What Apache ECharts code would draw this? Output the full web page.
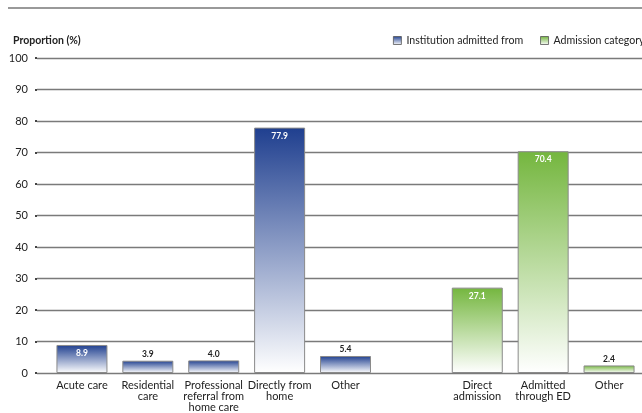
<!DOCTYPE html>
<html><head><meta charset="utf-8">
<script src="https://cdn.jsdelivr.net/npm/echarts@6/dist/echarts.min.js"></script>
<style>html,body{margin:0;padding:0;background:#fff}#c{width:642px;height:413px}</style>
</head><body><div id="c"></div>
<script>
var categories = ['Acute care','Residential\ncare','Professional\nreferral from\nhome care','Directly from\nhome','Other','','Direct\nadmission','Admitted\nthrough ED','Other'];
var institutionValues = [8.9, 3.9, 4.0, 77.9, 5.4, null, null, null, null];
var admissionValues = [null, null, null, null, null, null, 27.1, 70.4, 2.4];
var yTicks = [0,10,20,30,40,50,60,70,80,90,100];

var FONT = 'Lato';
function grad(top){
  return new echarts.graphic.LinearGradient(0,0,0,1,[{offset:0,color:top},{offset:1,color:'#ffffff'}]);
}
function build(vals){
  return vals.map(function(v){
    if (v === null) return '-';
    var inside = v > 6;
    return {value:v, label:{show:true, position: inside?'insideTop':'top', distance: inside?4:2,
      color: inside?'#ffffff':'#222', fontSize:8.5, fontWeight:'bold', fontFamily:FONT,
      formatter: function(p){return p.value.toFixed(1);}}};
  });
}
var chart = echarts.init(document.getElementById('c'), null, {renderer:'canvas'});
chart.setOption({
  animation:false,
  textStyle:{fontFamily:FONT},
  title:{text:'Proportion (%)', left:8, top:30, textStyle:{fontSize:10.5, fontWeight:'bold', color:'#222', fontFamily:FONT}},
  legend:{left:388, top:30, width:500, itemWidth:8, itemHeight:8, itemGap:17, icon:'rect',
    textStyle:{fontSize:10.6, color:'#222', fontFamily:FONT},
    data:[{name:'Institution admitted from', itemStyle:{color:grad('#1f3f8f'), borderColor:'#555', borderWidth:0.8}},
          {name:'Admission category', itemStyle:{color:grad('#6fb23a'), borderColor:'#555', borderWidth:0.8}}]},
  graphic:[{type:'line', shape:{x1:8,y1:8,x2:642,y2:8}, style:{stroke:'#999', lineWidth:2}}],
  grid:[
    {left:37, right:0, top:58, bottom:40},
    {left:49, right:-4, top:58, bottom:40}
  ],
  xAxis:[
    {gridIndex:0, type:'category', data:categories, show:false},
    {gridIndex:1, type:'category', data:categories, axisLine:{show:false}, axisTick:{show:false},
      axisLabel:{interval:0, margin:7, fontSize:11, lineHeight:11, color:'#222', fontFamily:FONT}}
  ],
  yAxis:[
    {gridIndex:0, type:'value', min:yTicks[0], max:yTicks[yTicks.length-1], interval:10,
      axisLine:{show:false}, axisTick:{show:true, length:2, lineStyle:{color:'#444', width:2}},
      axisLabel:{margin:9, fontSize:11, color:'#222', fontFamily:FONT},
      splitLine:{lineStyle:{color:'#7a7a7a', width:1.4}}},
    {gridIndex:1, type:'value', min:0, max:100, interval:10, show:false, splitLine:{show:false}}
  ],
  series:[
    {name:'Institution admitted from', type:'bar', xAxisIndex:1, yAxisIndex:1, barWidth:51, barGap:'-100%',
      itemStyle:{color:grad('#1f3f8f'), borderColor:'#8a8a8a', borderWidth:1}, data:build(institutionValues)},
    {name:'Admission category', type:'bar', xAxisIndex:1, yAxisIndex:1, barWidth:51, barGap:'-100%',
      itemStyle:{color:grad('#74b63e'), borderColor:'#8a8a8a', borderWidth:1}, data:build(admissionValues)}
  ]
});
</script></body></html>
